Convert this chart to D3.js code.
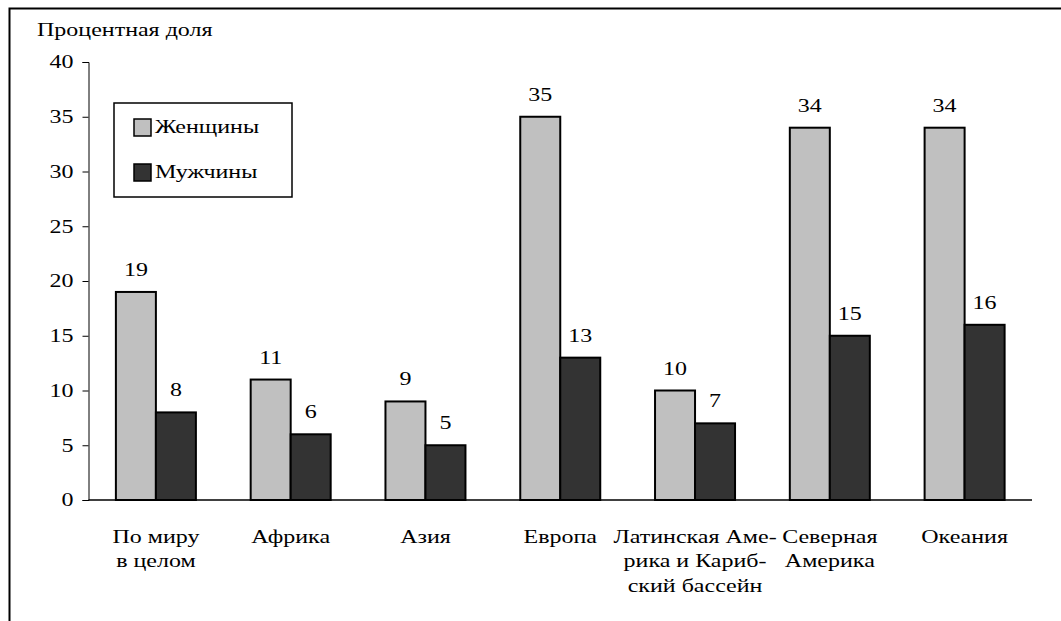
<!DOCTYPE html>
<html>
<head><meta charset="utf-8"></head>
<body style="margin:0">
<script src="https://d3js.org/d3.v7.min.js"></script>
<svg width="1061" height="621"></svg>
<script>

// Data
var categories = [
  ['По миру', 'в целом'],
  ['Африка'],
  ['Азия'],
  ['Европа'],
  ['Латинская Аме-', 'рика и Кариб-', 'ский бассейн'],
  ['Северная', 'Америка'],
  ['Океания']
];
var seriesNames = ['Женщины', 'Мужчины'];
var women = [19, 11, 9, 35, 10, 34, 34];
var men = [8, 6, 5, 13, 7, 15, 16];
var yTicks = [0, 5, 10, 15, 20, 25, 30, 35, 40];

var colors = ['#c0c0c0', '#333333'];
var width = 1061, height = 621;
var plot = {left: 88.5, right: 1032, top: 62, bottom: 500};
var fontFam = '"Liberation Serif", serif';
var squash = 0.78; // the original text is wide and low

var svg = d3.select('svg');

// puts a text at (x, y) with the squashed look
function place(sel, x, y) {
  return sel.attr('transform', 'translate(' + x + ',' + y + ') scale(1,' + squash + ')')
            .style('font-family', fontFam)
            .style('font-size', '24px');
}

// frame (only top and left edges are visible)
svg.append('rect')
   .attr('x', 9.5).attr('y', 8.5)
   .attr('width', width + 20).attr('height', height + 20)
   .attr('fill', 'none').attr('stroke', '#000').attr('stroke-width', 2);

var xScale = d3.scaleBand()
               .domain(d3.range(categories.length))
               .range([plot.left, plot.right]);

var bandW = xScale.bandwidth();
var barW = 40;

var yScale = d3.scaleLinear().domain([0, 40])
               .range([plot.bottom, plot.top]);

// y axis
var yAxis = svg.append('g')
   .attr('transform', 'translate(' + plot.left + ',0)')
   .call(d3.axisLeft(yScale).tickValues(yTicks).tickSize(6).tickPadding(9));
yAxis.select('.domain').attr('stroke', '#000').attr('stroke-width', 1);
yAxis.selectAll('.tick line').attr('stroke', '#000');
yAxis.selectAll('text')
   .attr('fill', '#000')
   .attr('transform', 'scale(1,' + squash + ')')
   .style('font-family', fontFam)
   .style('font-size', '24px');

place(svg.append('text'), 37, 36).text('Процентная доля');

// bars
var rows = women.map(function(d, i) { return [d, men[i]]; });
var groups = svg.append('g').selectAll('g')
   .data(rows)
   .enter()
   .append('g')
   .attr('transform', function(d, i) { return 'translate(' + (xScale(i) + bandW / 2 - barW) + ',0)'; });

groups.selectAll('rect')
   .data(function(d) { return d; })
   .enter()
   .append('rect')
   .attr('x', function(d, j) { return j * barW; })
   .attr('y', function(d) { return yScale(d); })
   .attr('width', barW)
   .attr('height', function(d) { return yScale(0) - yScale(d); })
   .attr('fill', function(d, j) { return colors[j]; })
   .attr('stroke', '#000')
   .attr('stroke-width', 2);

groups.selectAll('text.val')
   .data(function(d) { return d; })
   .enter()
   .append('text')
   .attr('class', 'val')
   .attr('text-anchor', 'middle')
   .each(function(d, j) { place(d3.select(this), j * barW + barW / 2, yScale(d) - 16); })
   .text(function(d) { return d; });

// x axis line (drawn over bars' bottom edges)
svg.append('line')
   .attr('x1', plot.left).attr('x2', plot.right)
   .attr('y1', yScale(0)).attr('y2', yScale(0))
   .attr('stroke', '#000').attr('stroke-width', 1.5);

// category labels
var catLabels = svg.append('g').selectAll('text')
   .data(categories)
   .enter()
   .append('text')
   .attr('text-anchor', 'middle')
   .each(function(d, i) { place(d3.select(this), xScale(i) + bandW / 2, 543); });

catLabels.selectAll('tspan')
   .data(function(d) { return d; })
   .enter()
   .append('tspan')
   .attr('x', 0)
   .attr('dy', function(d, k) { return k === 0 ? 0 : 24.5 / squash; })
   .text(function(d) { return d; });

// legend
var legend = svg.append('g').attr('transform', 'translate(114,103)');
legend.append('rect')
   .attr('width', 178).attr('height', 94)
   .attr('fill', '#fff').attr('stroke', '#000').attr('stroke-width', 1.5);

var items = legend.selectAll('g.item')
   .data(seriesNames)
   .enter()
   .append('g')
   .attr('transform', function(d, i) { return 'translate(20,' + (16 + i * 45) + ')'; });
items.append('rect')
   .attr('width', 17).attr('height', 17)
   .attr('fill', function(d, i) { return colors[i]; })
   .attr('stroke', '#000').attr('stroke-width', 1.5);
items.append('text')
   .each(function() { place(d3.select(this), 21, 14); })
   .text(function(d) { return d; });

</script>
</body>
</html>
